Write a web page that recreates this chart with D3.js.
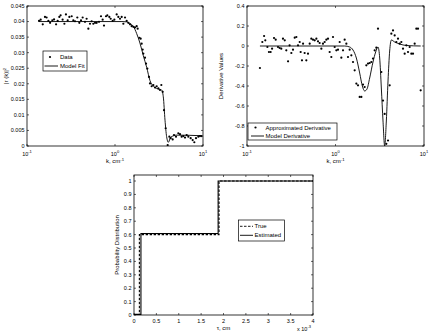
<!DOCTYPE html>
<html>
<head>
<meta charset="utf-8">
<script src="https://cdn.jsdelivr.net/npm/d3@7"></script>
<style>
body { margin: 0; background: #fff; }
svg { display: block; font-family: "Liberation Sans", Arial, sans-serif; }
</style>
</head>
<body>
<svg width="431" height="331"></svg>
<script>
// measured |r(k)|^2 points
var dataK = [0.137,0.143,0.151,0.160,0.167,0.175,0.183,0.194,0.203,0.214,
	0.223,0.233,0.241,0.254,0.266,0.277,0.290,0.303,0.322,0.336,
	0.351,0.373,0.393,0.411,0.429,0.456,0.476,0.498,0.520,0.543,
	0.567,0.593,0.619,0.658,0.693,0.724,0.750,0.790,0.818,0.862,
	0.893,0.941,0.983,1.045,1.091,1.140,1.191,1.244,1.300,1.357,
	1.418,1.481,1.547,1.616,1.688,1.763,1.810,1.890,1.957,2.009,
	2.063,2.099,2.192,2.251,2.330,2.434,2.499,2.611,2.727,2.848,
	2.975,3.108,3.246,3.361,3.481,3.605,3.766,3.968,4.144,4.292,
	4.522,4.683,4.934,5.244,5.478,5.722,5.976,6.243,6.522,6.813,
	7.241,7.629,7.969,8.326,8.851,9.245,9.658];
var dataPower = [0.0402,0.0406,0.0391,0.0415,0.0413,0.0402,0.0396,0.0404,0.0407,0.0391,
	0.0402,0.0415,0.0420,0.0406,0.0393,0.0423,0.0404,0.0415,0.0417,0.0404,
	0.0401,0.0413,0.0396,0.0404,0.0413,0.0399,0.0409,0.0377,0.0393,0.0401,
	0.0393,0.0396,0.0396,0.0399,0.0417,0.0406,0.0387,0.0417,0.0420,0.0415,
	0.0409,0.0402,0.0406,0.0423,0.0415,0.0409,0.0415,0.0393,0.0413,0.0402,
	0.0396,0.0391,0.0385,0.0383,0.0381,0.0385,0.0377,0.0348,0.0345,0.0329,
	0.0310,0.0297,0.0284,0.0265,0.0249,0.0222,0.0201,0.0192,0.0196,0.0188,
	0.0192,0.0185,0.0180,0.0196,0.0174,0.0115,0.0057,0.0003,0.0030,0.0025,
	0.0021,0.0035,0.0030,0.0041,0.0038,0.0030,0.0032,0.0027,0.0035,0.0030,
	0.0025,0.0019,0.0012,0.0025,0.0030,0.0032,0.0032];

// model fit
var fitK = [0.137,1.20,1.36,1.45,1.62,1.76,1.92,2.10,2.29,2.50,2.73,2.98,3.39,3.54,3.70,3.86,4.04,4.29,5.02,9.66];
var fitPower = [0.0400,0.0400,0.0399,0.0395,0.0384,0.0362,0.0331,0.0290,0.0253,0.0210,0.0192,0.0185,0.0180,0.0158,0.0083,0.0030,0.0012,0.0028,0.0035,0.0033];

// approximated derivative points
var derivK = [0.140,0.149,0.156,0.161,0.170,0.177,0.185,0.192,0.202,0.211,
	0.224,0.234,0.244,0.255,0.267,0.278,0.291,0.303,0.317,0.331,
	0.346,0.361,0.377,0.394,0.404,0.418,0.430,0.448,0.468,0.489,
	0.511,0.533,0.557,0.582,0.608,0.634,0.662,0.692,0.722,0.754,
	0.788,0.823,0.859,0.897,0.937,0.979,1.022,1.067,1.115,1.164,
	1.216,1.269,1.326,1.384,1.446,1.510,1.577,1.647,1.720,1.796,
	1.876,1.959,2.046,2.136,2.231,2.330,2.433,2.541,2.653,2.771,
	2.894,3.022,3.296,3.442,3.594,3.753,3.921,4.094,4.275,4.465,
	4.663,4.868,5.085,5.310,5.545,5.792,6.048,6.316,6.597,6.889,
	7.193,7.514,7.846,8.193,8.557,9.171];
var derivValues = [-0.22,0.04,0.10,0.057,-0.01,-0.06,-0.06,-0.027,0.08,0.063,
	-0.01,-0.02,-0.027,0.073,0.057,-0.043,-0.153,0.007,-0.07,-0.037,
	0.083,0.09,0.007,0.04,-0.06,-0.143,0.023,-0.07,-0.143,-0.077,
	0.023,0.073,0.063,0.057,0.073,0.047,0.03,-0.027,0.023,0.04,
	0.063,0.073,-0.06,-0.11,0.09,-0.01,-0.043,-0.037,0.04,-0.117,
	-0.043,0.063,0.023,-0.11,-0.037,-0.093,-0.16,-0.243,-0.376,-0.393,
	-0.509,-0.509,-0.386,-0.41,-0.193,-0.176,-0.17,-0.16,-0.126,-0.043,
	-0.017,0.173,-0.26,-0.546,-0.679,-0.978,-0.945,-0.393,0.123,0.156,
	0.106,0.04,0.073,0.023,0.04,-0.027,-0.077,0.007,-0.06,-0.01,
	-0.077,-0.077,0.023,0.173,0.173,-0.443];

// model derivative
var modelDerivK = [0.140,1.269,1.446,1.577,1.720,1.876,2.010,2.136,2.270,2.433,2.653,2.844,3.022,3.158,3.296,3.442,3.594,3.753,3.921,4.094,4.275,4.663,5.310,6.316,9.171];
var modelDerivValues = [0,0,-0.01,-0.04,-0.12,-0.27,-0.40,-0.45,-0.43,-0.32,-0.16,-0.06,-0.01,-0.12,-0.42,-0.75,-1.0,-0.75,-0.35,-0.05,0.06,0.04,0.02,0.005,0];

// probability distributions (steps)
var tauTrue = [0, 0.12, 1.9, 4];
var probTrue = [0, 0.6, 1, 1];
var tauEstimated = [0, 0.155, 1.88, 4];
var probEstimated = [0.005, 0.608, 1, 1];

// ticks
var logTicks = [0.1, 1, 10];
var logTickExps = ["-1", "0", "1"];
var powerTicks = [0, 0.005, 0.01, 0.015, 0.02, 0.025, 0.03, 0.035, 0.04, 0.045];
var powerTickLabels = ["0", "0.005", "0.01", "0.015", "0.02", "0.025", "0.03", "0.035", "0.04", "0.045"];
var derivTicks = [-1, -0.8, -0.6, -0.4, -0.2, 0, 0.2, 0.4];
var derivTickLabels = ["-1", "-0.8", "-0.6", "-0.4", "-0.2", "0", "0.2", "0.4"];
var probTicks = [0, 0.1, 0.2, 0.3, 0.4, 0.5, 0.6, 0.7, 0.8, 0.9, 1];
var probTickLabels = ["0", "0.1", "0.2", "0.3", "0.4", "0.5", "0.6", "0.7", "0.8", "0.9", "1"];
var tauTicks = [0, 0.5, 1, 1.5, 2, 2.5, 3, 3.5, 4];
var tauTickLabels = ["0", "0.5", "1", "1.5", "2", "2.5", "3", "3.5", "4"];

var svg = d3.select("svg");
var defs = svg.append("defs");
var tickFont = 5.5, labelFont = 6;

function frame(id, left, top, right, bottom) {
	defs.append("clipPath").attr("id", id)
		.append("rect").attr("x", left).attr("y", top)
		.attr("width", right - left).attr("height", bottom - top);
	svg.append("rect")
		.attr("x", left).attr("y", top)
		.attr("width", right - left).attr("height", bottom - top)
		.attr("fill", "none").attr("stroke", "#000").attr("stroke-width", 0.8);
}

function yTicks(scale, ticks, labels, left, right) {
	ticks.forEach(function (t, i) {
		var y = scale(t);
		svg.append("line").attr("x1", left).attr("x2", left + 2).attr("y1", y).attr("y2", y)
			.attr("stroke", "#000").attr("stroke-width", 0.6);
		svg.append("line").attr("x1", right - 2).attr("x2", right).attr("y1", y).attr("y2", y)
			.attr("stroke", "#000").attr("stroke-width", 0.6);
		svg.append("text").attr("x", left - 2.5).attr("y", y).attr("dy", "0.35em")
			.attr("text-anchor", "end").attr("font-size", tickFont).text(labels[i]);
	});
}

function xTicks(scale, ticks, top, bottom) {
	ticks.forEach(function (t) {
		var x = scale(t);
		svg.append("line").attr("x1", x).attr("x2", x).attr("y1", bottom - 2).attr("y2", bottom)
			.attr("stroke", "#000").attr("stroke-width", 0.6);
		svg.append("line").attr("x1", x).attr("x2", x).attr("y1", top).attr("y2", top + 2)
			.attr("stroke", "#000").attr("stroke-width", 0.6);
	});
}

function logLabels(scale, bottom) {
	logTicks.forEach(function (t, i) {
		var txt = svg.append("text").attr("x", scale(t)).attr("y", bottom + 10)
			.attr("text-anchor", "middle").attr("font-size", tickFont);
		txt.append("tspan").text("10");
		txt.append("tspan").attr("dy", -3).attr("font-size", 4).text(logTickExps[i]);
	});
}

function kLabel(cx, y) {
	var txt = svg.append("text").attr("x", cx).attr("y", y)
		.attr("text-anchor", "middle").attr("font-size", labelFont);
	txt.append("tspan").text("k, cm");
	txt.append("tspan").attr("dy", -2.5).attr("font-size", 4.2).text("-1");
}

function yLabel(x, cy, build) {
	var txt = svg.append("text")
		.attr("transform", "translate(" + x + "," + cy + ") rotate(-90)")
		.attr("text-anchor", "middle").attr("font-size", labelFont);
	build(txt);
}

// ---------- panel 1: |r(k)|^2 ----------
var p1 = { left: 27, top: 6, right: 203, bottom: 146 };
var x1 = d3.scaleLog().domain([0.1, 10]).range([p1.left, p1.right]);
var y1 = d3.scaleLinear().domain([0, 0.045]).range([p1.bottom, p1.top]);

frame("clip1", p1.left, p1.top, p1.right, p1.bottom);
yTicks(y1, powerTicks, powerTickLabels, p1.left, p1.right);
xTicks(x1, logTicks, p1.top, p1.bottom);
logLabels(x1, p1.bottom);
kLabel((p1.left + p1.right) / 2, 163);
yLabel(8, (p1.top + p1.bottom) / 2, function (t) {
	t.append("tspan").text("|r (k)|");
	t.append("tspan").attr("dy", -2.5).attr("font-size", 4.2).text("2");
});

var plot1 = svg.append("g").attr("clip-path", "url(#clip1)");
plot1.append("path")
	.datum(d3.zip(fitK, fitPower))
	.attr("fill", "none").attr("stroke", "#000").attr("stroke-width", 0.9)
	.attr("d", d3.line().x(function (d) { return x1(d[0]); }).y(function (d) { return y1(d[1]); })
		.curve(d3.curveMonotoneX));
plot1.selectAll("circle")
	.data(d3.zip(dataK, dataPower))
	.enter().append("circle")
	.attr("cx", function (d) { return x1(d[0]); })
	.attr("cy", function (d) { return y1(d[1]); })
	.attr("r", 1.1).attr("fill", "#000");

// legend 1
var lg1 = svg.append("g");
lg1.append("rect").attr("x", 43).attr("y", 51).attr("width", 44).attr("height", 20)
	.attr("fill", "#fff").attr("stroke", "#000").attr("stroke-width", 0.7);
lg1.append("circle").attr("cx", 50).attr("cy", 57).attr("r", 1.1).attr("fill", "#000");
lg1.append("text").attr("x", 60).attr("y", 57).attr("dy", "0.35em").attr("font-size", labelFont).text("Data");
lg1.append("line").attr("x1", 44.5).attr("x2", 58).attr("y1", 66).attr("y2", 66)
	.attr("stroke", "#000").attr("stroke-width", 0.9);
lg1.append("text").attr("x", 60).attr("y", 66).attr("dy", "0.35em").attr("font-size", labelFont).text("Model Fit");

// ---------- panel 2: derivative ----------
var p2 = { left: 247, top: 6, right: 424, bottom: 146 };
var x2 = d3.scaleLog().domain([0.1, 10]).range([p2.left, p2.right]);
var y2 = d3.scaleLinear().domain([-1, 0.4]).range([p2.bottom, p2.top]);

frame("clip2", p2.left, p2.top, p2.right, p2.bottom);
yTicks(y2, derivTicks, derivTickLabels, p2.left, p2.right);
xTicks(x2, logTicks, p2.top, p2.bottom);
logLabels(x2, p2.bottom);
kLabel((p2.left + p2.right) / 2, 163);
yLabel(223, (p2.top + p2.bottom) / 2, function (t) { t.text("Derivative Values"); });

var plot2 = svg.append("g").attr("clip-path", "url(#clip2)");
plot2.append("path")
	.datum(d3.zip(modelDerivK, modelDerivValues))
	.attr("fill", "none").attr("stroke", "#000").attr("stroke-width", 0.9)
	.attr("d", d3.line().x(function (d) { return x2(d[0]); }).y(function (d) { return y2(d[1]); })
		.curve(d3.curveMonotoneX));
plot2.selectAll("circle")
	.data(d3.zip(derivK, derivValues))
	.enter().append("circle")
	.attr("cx", function (d) { return x2(d[0]); })
	.attr("cy", function (d) { return y2(d[1]); })
	.attr("r", 1.1).attr("fill", "#000");

// legend 2
var lg2 = svg.append("g");
lg2.append("rect").attr("x", 248).attr("y", 123).attr("width", 89).attr("height", 17)
	.attr("fill", "#fff").attr("stroke", "#000").attr("stroke-width", 0.7);
lg2.append("circle").attr("cx", 255.5).attr("cy", 127.5).attr("r", 1.1).attr("fill", "#000");
lg2.append("text").attr("x", 265.5).attr("y", 127.5).attr("dy", "0.35em").attr("font-size", labelFont).text("Approximated Derivative");
lg2.append("line").attr("x1", 251).attr("x2", 264).attr("y1", 136).attr("y2", 136)
	.attr("stroke", "#000").attr("stroke-width", 0.9);
lg2.append("text").attr("x", 265.5).attr("y", 136).attr("dy", "0.35em").attr("font-size", labelFont).text("Model Derivative");

// ---------- panel 3: probability distribution ----------
var p3 = { left: 134, top: 175, right: 313, bottom: 315 };
var x3 = d3.scaleLinear().domain([0, 4]).range([p3.left, p3.right]);
var y3 = d3.scaleLinear().domain([0, 1.045]).range([p3.bottom, p3.top]);

frame("clip3", p3.left, p3.top, p3.right, p3.bottom);
yTicks(y3, probTicks, probTickLabels, p3.left, p3.right);
xTicks(x3, tauTicks, p3.top, p3.bottom);
tauTicks.forEach(function (t, i) {
	svg.append("text").attr("x", x3(t)).attr("y", p3.bottom + 7.5)
		.attr("text-anchor", "middle").attr("font-size", tickFont).text(tauTickLabels[i]);
});
svg.append("text").attr("x", (p3.left + p3.right) / 2).attr("y", 330)
	.attr("text-anchor", "middle").attr("font-size", labelFont).text("τ, cm");
var expo = svg.append("text").attr("x", 297).attr("y", 330.5).attr("font-size", tickFont);
expo.append("tspan").text("x 10");
expo.append("tspan").attr("dy", -2.5).attr("font-size", 4).text("-3");
yLabel(119, (p3.top + p3.bottom) / 2, function (t) { t.text("Probability Distribution"); });

var stepLine = d3.line()
	.x(function (d) { return x3(d[0]); })
	.y(function (d) { return y3(d[1]); })
	.curve(d3.curveStepAfter);

var plot3 = svg.append("g").attr("clip-path", "url(#clip3)");
plot3.append("path")
	.datum(d3.zip(tauEstimated, probEstimated))
	.attr("fill", "none").attr("stroke", "#000").attr("stroke-width", 1.1)
	.attr("d", stepLine);
plot3.append("path")
	.datum(d3.zip(tauTrue, probTrue))
	.attr("fill", "none").attr("stroke", "#000").attr("stroke-width", 1.1)
	.attr("stroke-dasharray", "2.5,1.5")
	.attr("d", stepLine);

// legend 3
var lg3 = svg.append("g");
lg3.append("rect").attr("x", 238.5).attr("y", 220).attr("width", 46).attr("height", 21)
	.attr("fill", "#fff").attr("stroke", "#000").attr("stroke-width", 0.7);
lg3.append("line").attr("x1", 240).attr("x2", 253).attr("y1", 226.3).attr("y2", 226.3)
	.attr("stroke", "#000").attr("stroke-width", 0.9).attr("stroke-dasharray", "2.5,1.5");
lg3.append("text").attr("x", 254.5).attr("y", 226.3).attr("dy", "0.35em").attr("font-size", labelFont).text("True");
lg3.append("line").attr("x1", 240).attr("x2", 253).attr("y1", 235.3).attr("y2", 235.3)
	.attr("stroke", "#000").attr("stroke-width", 0.9);
lg3.append("text").attr("x", 254.5).attr("y", 235.3).attr("dy", "0.35em").attr("font-size", labelFont).text("Estimated");
</script>
</body>
</html>
